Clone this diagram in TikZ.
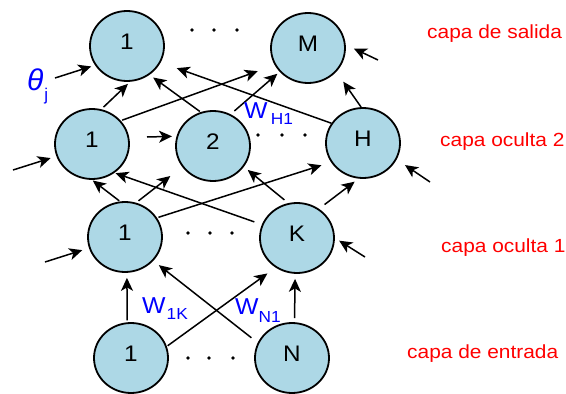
\documentclass[tikz,border=0pt]{standalone}
\usepackage{graphicx}
\usepackage{fontspec}
\setmainfont{Liberation Sans}
\usetikzlibrary{shapes.geometric,arrows.meta}
\definecolor{nodefill}{RGB}{173,216,230}
\newcommand{\widetxt}[1]{\scalebox{1.08}[1]{#1}}
\newcommand{\widelbl}[1]{\scalebox{1.1}[1]{#1}}
\begin{document}
\begin{tikzpicture}[x=1pt,y=-1pt,
  neuron/.style={ellipse,draw=black,line width=1.8pt,fill=nodefill,minimum width=74pt,minimum height=70pt,inner sep=0pt,text height=16pt,text depth=9pt,font=\fontsize{22.5}{25}\selectfont},
  arr/.style={line width=1.5pt,-{Stealth[length=13pt,width=12pt,inset=3.5pt]}},
  layerlabel/.style={text=red,font=\fontsize{19}{22}\selectfont,anchor=base west,inner sep=0pt},
  wlabel/.style={text=blue,anchor=base west,inner sep=0pt},
  dotmark/.style={circle,fill=black,inner sep=0pt,minimum size=3.8pt}]
\useasboundingbox (0,0) rectangle (566,394);

% nodes
\node[neuron] (O1) at (127,46) {\widetxt{1}};
\node[neuron] (OM) at (308,48) {\widetxt{M}};
\node[neuron] (A1) at (92,144) {\widetxt{1}};
\node[neuron] (A2) at (213,146) {\widetxt{2}};
\node[neuron] (AH) at (363,143) {\widetxt{H}};
\node[neuron] (B1) at (125,237) {\widetxt{1}};
\node[neuron] (BK) at (297,238) {\widetxt{K}};
\node[neuron] (C1) at (131,358) {\widetxt{1}};
\node[neuron] (CN) at (292,358) {\widetxt{N}};

% dots
\foreach \n/\x/\y in {o1/192/30,o2/214/30,o3/237/30,
                      a1/258/135,a2/282/135,a3/305/135,
                      b1/188/233,b2/210/233,b3/232/233,
                      c1/188/358,c2/209/358,c3/233/358}
  \node[dotmark] (d\n) at (\x,\y) {};

% input -> hidden 1
\draw[arr,shorten <=2pt,shorten >=5pt] (C1.96) -- (B1.-87);
\draw[arr,shorten <=1pt,shorten >=10pt] (C1.18) -- (BK.-126);
\draw[arr,shorten <=8pt,shorten >=7pt] (CN.156) -- (B1.-40);
\draw[arr,shorten <=4pt,shorten >=5pt] (CN.86) -- (BK.-93);
% hidden 1 -> hidden 2
\draw[arr,shorten <=1pt,shorten >=1pt] (B1.98) -- (A1.-90);
\draw[arr,shorten <=3pt,shorten >=15pt] (B1.72) -- (A2.-146);
\draw[arr,shorten <=1.5pt,shorten >=10pt] (B1.31) -- (AH.-149);
\draw[arr,shorten <=8pt,shorten >=1pt] (BK.159) -- (A1.-52);
\draw[arr,shorten <=5pt,shorten >=5pt] (BK.104) -- (A2.-34);
\draw[arr,shorten <=7pt,shorten >=5pt] (BK.53) -- (AH.-97);
% hidden 2 -> output
\draw[arr,shorten <=3pt,shorten >=3pt] (A1.75) -- (O1.-85);
\draw[arr,shorten <=1.5pt,shorten >=18pt] (A1.39) -- (OM.-153);
\draw[arr,shorten <=1pt,shorten >=4.5pt] (A2.110) -- (O1.-52);
\draw[arr,shorten <=5pt,shorten >=3pt] (A2.61) -- (OM.-140);
\draw[arr,shorten >=17pt] (AH.148) -- (O1.-26);
\draw[arr,shorten >=12pt] (AH.93) -- (OM.-40);

% free inputs (bias)
\coordinate (t0) at (55,78);
\coordinate (m0) at (378,60);
\coordinate (a10) at (13,170);
\coordinate (a20) at (147,137);
\coordinate (ah0) at (430,182);
\coordinate (b10) at (45,262);
\coordinate (bk0) at (365,257);
\draw[arr,shorten >=4pt] (t0) -- (O1.-149);
\draw[arr,shorten >=9pt] (m0) -- (OM.5);
\draw[arr,shorten >=6pt] (a10) -- (A1.-161);
\draw[arr,shorten >=4.5pt] (a20) -- (A2.165);
\draw[arr,shorten >=10pt] (ah0) -- (AH.-26);
\draw[arr,shorten >=7pt] (b10) -- (B1.-163);
\draw[arr,shorten >=5pt] (bk0) -- (BK.0);

% weight labels
\node[wlabel] (theta) at (27,90) {\fontsize{30}{32}\selectfont\itshape θ\kern1pt\raisebox{-10pt}{\upshape\fontsize{17}{19}\selectfont j}};
\node[wlabel] (wh1) at (244,118) {\widetxt{\fontsize{23}{25}\selectfont W\kern3pt\raisebox{-6.5pt}{\fontsize{16}{18}\selectfont H1}}};
\node[wlabel] (w1k) at (142,313) {\widetxt{\fontsize{23}{25}\selectfont W\kern1pt\raisebox{-6.5pt}{\fontsize{16}{18}\selectfont 1K}}};
\node[wlabel] (wn1) at (235,314) {\widetxt{\fontsize{23}{25}\selectfont W\kern0pt\raisebox{-8pt}{\fontsize{16}{18}\selectfont N1}}};

% layer labels
\node[layerlabel] (ls) at (427,38) {\widelbl{capa de salida}};
\node[layerlabel] (lo2) at (440,146.5) {\widelbl{capa oculta 2}};
\node[layerlabel] (lo1) at (441,252) {\widelbl{capa oculta 1}};
\node[layerlabel] (le) at (407,358) {\widelbl{capa de entrada}};
\end{tikzpicture}
\end{document}
